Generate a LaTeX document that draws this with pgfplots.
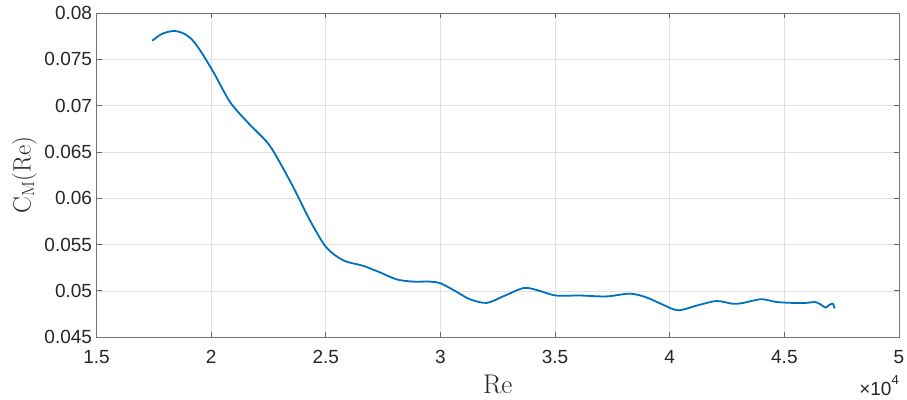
\documentclass[border=0pt]{standalone}
\usepackage{fontspec}
\usepackage{pgfplots}
\pgfplotsset{compat=1.18}
\newfontfamily\tickfont{Liberation Sans}
\definecolor{mblue}{RGB}{0,114,189}
\begin{document}
\begin{tikzpicture}
\begin{axis}[name=ax, scale only axis, width=802bp, height=324bp,
  xmin=1.5, xmax=5, ymin=0.045, ymax=0.08,
  scaled x ticks=false, scaled y ticks=false,
  xtick={1.5,2,2.5,3,3.5,4,4.5,5},
  ytick={0.045,0.05,0.055,0.06,0.065,0.07,0.075,0.08},
  xticklabels={1.5,2,2.5,3,3.5,4,4.5,5},
  yticklabels={0.045,0.05,0.055,0.06,0.065,0.07,0.075,0.08},
  ticklabel style={font=\tickfont\fontsize{19bp}{22bp}\selectfont, text=black!85},
  xticklabel style={yshift=-10bp},
  yticklabel style={xshift=-1bp},
  tick align=inside, major tick length=5bp,
  tick style={black!60, line width=0.8bp},
  axis line style={black!55, line width=0.8bp},
  grid=major, major grid style={black!12, line width=0.7bp},
  xlabel={Re}, ylabel={C\textsubscript{M}(Re)},
  xlabel style={at={(axis description cs:0.5,0)}, anchor=base, yshift=-56bp,
    font=\fontsize{27bp}{30bp}\selectfont, text=black!85},
  ylabel style={at={(axis description cs:-0.0823,0.5)}, anchor=base,
    font=\fontsize{25bp}{30bp}\selectfont, text=black!85},
]
\addplot[mblue, line width=1.8bp, smooth, tension=0.5] coordinates {
(1.743,0.0770)
(1.784,0.07773)
(1.835,0.07806)
(1.878,0.07781)
(1.915,0.07716)
(1.951,0.07600)
(1.987,0.07457)
(2.017,0.07330)
(2.082,0.0704)
(2.155,0.0683)
(2.242,0.0661)
(2.285,0.0645)
(2.358,0.0612)
(2.431,0.0576)
(2.502,0.0547)
(2.576,0.0533)
(2.663,0.0527)
(2.736,0.0520)
(2.809,0.05124)
(2.881,0.0510)
(2.954,0.0510)
(3.002,0.0508)
(3.070,0.0499)
(3.128,0.0491)
(3.201,0.0487)
(3.273,0.0494)
(3.361,0.0503)
(3.419,0.0501)
(3.503,0.0495)
(3.608,0.0495)
(3.724,0.0494)
(3.826,0.0497)
(3.898,0.0493)
(3.971,0.0485)
(4.036,0.0479)
(4.116,0.0484)
(4.204,0.0489)
(4.276,0.0486)
(4.320,0.0487)
(4.400,0.0491)
(4.465,0.0488)
(4.538,0.0487)
(4.596,0.0487)
(4.632,0.0488)
(4.654,0.0486)
(4.680,0.0482)
(4.697,0.0485)
(4.712,0.0486)
(4.719,0.0481)
};
\end{axis}
\node[anchor=base east, inner sep=0pt, font=\tickfont\fontsize{19bp}{22bp}\selectfont, text=black!85]
  at ([yshift=-58bp]ax.south east) {×10\raisebox{0.55em}{\fontsize{13bp}{15bp}\selectfont 4}};
\pgfresetboundingbox
\path[use as bounding box] ([shift={(-96.5bp,-62bp)}]ax.south west) rectangle ([shift={(8bp,13bp)}]ax.north east);
\end{tikzpicture}
\end{document}
